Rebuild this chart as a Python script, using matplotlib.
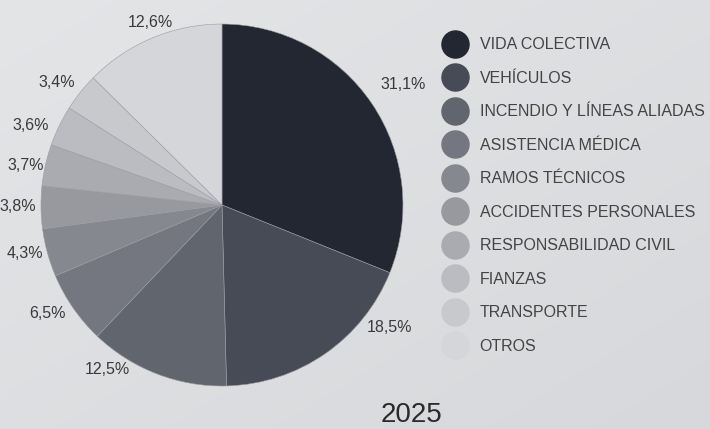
import numpy as np
import matplotlib.pyplot as plt
from matplotlib.lines import Line2D

plt.rcParams['font.family'] = ['Liberation Sans', 'DejaVu Sans']

# datos
categorias = ["VIDA COLECTIVA", "VEHÍCULOS", "INCENDIO Y LÍNEAS ALIADAS",
              "ASISTENCIA MÉDICA", "RAMOS TÉCNICOS", "ACCIDENTES PERSONALES",
              "RESPONSABILIDAD CIVIL", "FIANZAS", "TRANSPORTE", "OTROS"]
porcentajes = [31.1, 18.5, 12.5, 6.5, 4.3, 3.8, 3.7, 3.6, 3.4, 12.6]
etiquetas = ["31,1%", "18,5%", "12,5%", "6,5%", "4,3%",
             "3,8%", "3,7%", "3,6%", "3,4%", "12,6%"]
anio = "2025"

colores = ["#222732", "#474b55", "#61656e", "#74777f", "#85888f",
           "#97999f", "#a9abb0", "#bbbcc1", "#c8c9cd", "#d5d6d9"]

fig = plt.figure(figsize=(7.1, 4.29), dpi=100)

# fondo con degradado suave
bg = fig.add_axes([0, 0, 1, 1], zorder=-10)
xx, yy = np.meshgrid(np.linspace(0, 1, 200), np.linspace(0, 1, 200))
grad = 0.5 * (1 - xx) + 0.5 * (1 - yy)
bg.imshow(grad, cmap=plt.matplotlib.colors.LinearSegmentedColormap.from_list(
    "bg", ["#d7d8db", "#e4e5e7"]), aspect="auto", extent=[0, 1, 0, 1])
bg.axis("off")

ax = fig.add_axes([0.0577, 0.1002, 0.5099, 0.8438])
wedges, _ = ax.pie(porcentajes, colors=colores, startangle=90,
                   counterclock=False, radius=1.0,
                   wedgeprops=dict(linewidth=0.4, edgecolor="#9a9ca2"))

# ajuste angular (sentido horario, grados) de las etiquetas, como el original
desfase = [0, -19.5, 14, 3.3, 2, 0.7, -0.8, -3, -1.5, 1.4]
distancia = [1.21, 1.14, 1.10, 1.13, 1.12, 1.13, 1.11, 1.15, 1.14, 1.09]
for w, txt, d, r in zip(wedges, etiquetas, desfase, distancia):
    ang = np.deg2rad((w.theta1 + w.theta2) / 2 - d)
    ax.text(r * np.cos(ang), r * np.sin(ang) - 0.01, txt, ha="center",
            va="center", fontsize=11.5, color="#3a3a3a")
ax.set_xlim(-1, 1)
ax.set_ylim(-1, 1)
ax.set_aspect("equal")
ax.axis("off")

handles = [Line2D([0], [0], marker="o", linestyle="none", markersize=19.5,
                  markerfacecolor=c, markeredgecolor=c) for c in colores]
fig.legend(handles, categorias, loc="upper left",
           bbox_to_anchor=(0.6183, 0.932), frameon=False, fontsize=11.5,
           labelcolor="#444444", handlelength=1.0, handletextpad=1.05,
           labelspacing=1.16, borderpad=0)

fig.text(0.579, 0.017, anio, ha="center", va="baseline", fontsize=20,
         color="#2a2a2a")

fig.savefig("out.png", dpi=100)
